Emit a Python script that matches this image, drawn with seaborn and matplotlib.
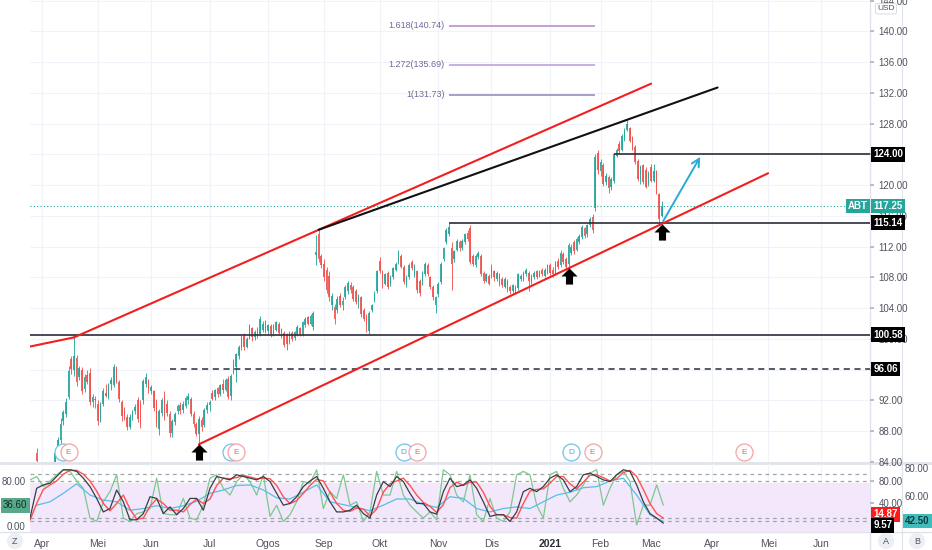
import numpy as np
import pandas as pd
import seaborn as sns
import matplotlib
matplotlib.use("Agg")
import matplotlib.pyplot as plt
from matplotlib.path import Path
from matplotlib.lines import Line2D

# ABT daily candles, Mar 26 2020 - Mar 5 2021
opens = [
    79.0, 80.5, 85.2, 83.6,
    78.0, 76.8, 78.5, 80.0, 83.6, 82.8, 85.5, 86.9, 89.3, 90.2, 92.5, 97.4, 96.0, 97.5, 95.0, 96.0, 93.5, 95.3, 95.6, 91.8, 92.2,
    91.6, 89.5, 91.6, 93.0, 92.5, 94.2, 94.0, 96.2, 94.4, 91.8, 90.6, 89.9, 88.6, 89.8, 90.6, 92.0, 91.5, 92.0, 94.2, 94.6,
    93.2, 93.2, 91.8, 88.3, 90.4, 92.6, 91.6, 90.2, 87.8, 89.2, 90.6, 91.4, 90.7, 91.3, 92.0, 92.2, 90.2, 88.9, 87.6, 89.4, 88.8, 90.8,
    91.4, 93.0, 92.4, 93.6, 92.8, 94.2, 93.4, 94.8, 92.6, 95.6, 96.4, 97.8, 98.8, 100.4, 99.0, 100.2, 101.4, 100.2, 101.2, 100.6, 101.2, 102.2,
    101.0, 101.7, 100.6, 101.2, 102.0, 101.2, 100.8, 100.6, 99.6, 100.8, 100.1, 100.6, 101.4, 100.6, 101.8, 102.8, 102.0, 101.6, 110.9, 113.6, 110.8,
    109.8, 109.0, 108.2, 104.4, 104.2, 103.8, 105.6, 104.4, 105.4, 106.2, 107.0, 106.8, 106.2, 104.8, 105.4, 103.8, 103.0, 101.0, 103.8, 105.0, 106.2,
    110.2, 108.7, 107.2, 108.6, 107.2, 108.0, 109.0, 110.0, 110.8, 109.4, 107.0, 108.0, 110.0, 108.4, 108.8, 107.6, 107.2, 108.4, 109.6, 108.0, 106.8, 104.4,
    105.8, 107.4, 110.4, 112.6, 113.6, 111.8, 110.4, 111.6, 112.6, 111.8, 112.6, 113.8, 114.4, 110.8, 109.6, 110.6, 110.8, 108.6, 107.6, 108.2,
    109.4, 108.8, 107.8, 108.4, 107.8, 106.8, 107.6, 106.8, 106.2, 106.8, 106.6, 107.8, 107.8, 108.4, 108.6, 107.4, 108.0, 108.8, 108.2, 109.0, 108.2, 108.6,
    109.6, 109.0, 108.6, 110.2, 109.6, 111.0, 110.4, 109.8, 111.2, 112.6, 111.6, 112.6, 113.2, 114.4, 113.6, 114.8, 115.8, 117.0, 124.2,
    121.8, 122.6, 120.4, 121.0, 119.8, 120.6, 123.8, 125.4, 124.6, 126.0, 127.2, 127.4, 126.2, 125.0, 123.2, 120.8, 122.6, 122.0, 120.2,
    122.4, 120.6, 121.8, 118.8, 116.0,
]
highs = [
    82.0, 84.0, 85.8, 84.0,
    79.0, 79.5, 79.5, 82.5, 84.0, 85.4, 87.2, 89.7, 90.8, 92.3, 96.5, 97.8, 100.6, 97.9, 96.5, 96.4, 95.4, 96.0, 96.2, 92.8, 92.6,
    92.0, 91.8, 93.6, 94.2, 94.3, 95.0, 96.8, 96.5, 94.6, 92.0, 91.2, 90.2, 90.2, 90.8, 91.6, 92.4, 92.0, 94.8, 95.6, 94.8,
    94.0, 93.4, 92.2, 90.9, 92.3, 93.2, 92.1, 90.6, 89.6, 90.5, 91.5, 91.8, 91.9, 92.6, 93.0, 92.5, 90.6, 89.2, 90.0, 89.8, 91.0, 91.8,
    92.0, 93.4, 93.5, 93.8, 94.2, 94.8, 94.9, 95.2, 95.4, 97.4, 98.2, 99.2, 100.5, 100.8, 100.2, 102.0, 101.6, 101.2, 101.5, 103.0, 102.4, 102.5,
    102.0, 101.9, 102.0, 102.4, 102.2, 101.4, 101.0, 100.8, 101.0, 101.0, 101.1, 101.8, 101.6, 102.4, 102.8, 103.0, 103.2, 103.6, 113.5, 114.3, 111.0,
    110.4, 109.4, 108.8, 106.0, 104.6, 105.6, 106.0, 105.4, 107.0, 107.6, 107.4, 107.0, 106.5, 105.9, 105.6, 104.0, 103.3, 103.6, 104.6, 106.2, 109.0,
    110.6, 109.0, 108.6, 108.9, 108.3, 109.4, 110.0, 111.6, 111.1, 109.6, 108.3, 109.9, 110.3, 109.8, 109.0, 107.8, 108.8, 110.0, 109.9, 108.2, 107.0, 105.6,
    107.4, 110.0, 112.0, 114.4, 115.1, 112.6, 111.6, 113.0, 112.9, 113.0, 113.8, 114.2, 114.8, 111.0, 111.0, 111.5, 111.0, 108.9, 108.6, 108.5,
    109.8, 109.0, 108.9, 108.6, 108.0, 108.0, 107.8, 107.0, 107.2, 107.0, 108.6, 108.4, 108.8, 109.2, 108.8, 108.4, 108.8, 109.0, 109.0, 109.2, 109.2, 109.8,
    109.9, 109.3, 110.2, 110.5, 111.6, 111.3, 110.6, 112.5, 112.3, 112.9, 113.2, 113.6, 114.8, 114.6, 115.0, 115.9, 116.2, 124.0, 124.6,
    123.4, 122.9, 121.6, 121.3, 121.0, 124.2, 124.8, 125.7, 126.6, 127.4, 128.6, 127.6, 126.4, 125.2, 123.4, 122.6, 122.8, 122.4, 121.8,
    122.8, 122.8, 122.0, 119.0, 118.0,
]
lows = [
    78.0, 80.0, 83.6, 78.6,
    75.5, 76.0, 76.5, 79.8, 81.2, 82.4, 85.0, 86.5, 88.8, 89.8, 92.2, 95.4, 95.2, 93.9, 94.6, 92.8, 93.1, 94.1, 91.4, 91.2, 91.0,
    88.8, 89.2, 91.3, 92.4, 92.2, 93.4, 93.8, 94.3, 91.8, 89.3, 89.4, 88.2, 88.3, 89.4, 90.2, 89.2, 88.4, 91.6, 93.8, 93.0,
    92.8, 90.6, 88.6, 87.5, 90.0, 89.5, 90.0, 87.2, 87.3, 88.8, 90.2, 90.3, 90.4, 91.0, 91.6, 90.0, 88.6, 87.4, 86.3, 88.0, 88.5, 90.4,
    90.6, 92.0, 92.0, 92.4, 92.6, 93.0, 93.2, 92.2, 92.0, 95.4, 94.4, 97.4, 98.6, 98.6, 98.8, 100.0, 99.8, 99.9, 100.1, 100.4, 100.9, 100.8,
    100.7, 100.3, 100.4, 101.0, 100.6, 100.1, 98.9, 98.6, 99.4, 99.8, 99.9, 100.4, 100.4, 100.4, 101.6, 101.8, 101.8, 101.2, 109.6, 110.0, 109.2,
    107.6, 106.0, 105.0, 103.8, 102.0, 103.4, 104.2, 103.8, 105.2, 105.9, 106.0, 104.9, 104.5, 104.0, 102.9, 102.3, 100.9, 100.6, 103.5, 104.8, 106.0,
    108.6, 106.6, 107.0, 106.5, 106.9, 107.8, 108.8, 109.8, 109.2, 107.1, 106.8, 107.8, 109.0, 108.1, 106.0, 105.6, 107.0, 108.2, 108.2, 106.5, 105.1, 103.4,
    105.5, 107.2, 110.2, 112.4, 113.4, 106.4, 110.0, 111.4, 111.5, 111.6, 112.4, 112.8, 109.8, 109.5, 109.4, 110.4, 108.2, 107.3, 107.4, 107.0,
    107.9, 107.6, 107.6, 106.9, 106.7, 106.6, 106.1, 105.9, 106.0, 105.8, 106.4, 107.6, 107.6, 108.2, 106.2, 107.2, 107.8, 107.8, 108.0, 108.2, 108.0, 108.4,
    108.3, 108.1, 108.4, 109.1, 109.4, 109.8, 109.0, 109.1, 110.9, 111.1, 111.4, 112.4, 113.0, 113.1, 113.3, 114.6, 113.8, 116.6, 121.4,
    121.2, 119.9, 120.0, 119.0, 119.4, 120.3, 123.6, 124.2, 124.4, 125.8, 127.0, 125.6, 124.6, 122.8, 120.6, 120.2, 120.2, 119.6, 119.9,
    120.4, 120.4, 118.8, 115.1, 115.8,
]
closes = [
    81.5, 83.8, 84.1, 79.0,
    76.5, 79.0, 77.8, 82.3, 82.0, 85.2, 86.8, 88.9, 90.5, 91.8, 95.8, 96.1, 97.8, 94.4, 96.2, 93.2, 95.0, 94.4, 91.8, 92.4, 92.1,
    89.3, 91.5, 93.2, 92.6, 94.0, 94.7, 96.4, 94.6, 92.2, 90.0, 89.8, 88.6, 89.8, 90.6, 91.2, 89.6, 89.0, 94.5, 95.0, 93.4,
    93.8, 91.0, 89.2, 90.6, 92.0, 89.8, 90.4, 87.8, 89.3, 90.3, 91.3, 90.6, 91.6, 92.3, 92.6, 90.2, 88.9, 87.7, 89.6, 88.6, 90.8, 91.4,
    91.8, 92.2, 93.3, 92.8, 94.0, 93.3, 94.6, 92.4, 95.2, 97.3, 98.0, 99.0, 100.3, 98.9, 100.0, 101.8, 100.2, 100.9, 100.4, 102.6, 102.0, 101.1,
    101.8, 100.6, 101.8, 102.2, 100.8, 100.4, 99.2, 99.4, 100.8, 100.0, 100.9, 101.6, 100.6, 102.2, 102.6, 102.0, 103.0, 103.4, 111.3, 110.4, 109.6,
    108.0, 106.4, 105.4, 105.6, 102.6, 105.2, 104.4, 105.0, 106.8, 107.3, 106.4, 105.2, 104.8, 105.6, 103.2, 102.6, 101.8, 103.4, 104.4, 106.0, 108.8,
    108.8, 107.0, 108.4, 106.8, 108.0, 109.2, 109.8, 111.0, 109.4, 107.4, 108.0, 109.6, 109.2, 109.6, 106.4, 106.0, 108.6, 109.8, 108.4, 106.8, 105.4, 105.4,
    107.2, 109.8, 111.8, 114.2, 114.6, 109.8, 111.4, 112.8, 111.8, 112.8, 113.6, 113.0, 110.0, 109.8, 110.8, 111.2, 108.4, 107.6, 108.4, 107.2,
    108.2, 108.0, 108.6, 107.2, 107.0, 107.8, 106.4, 106.2, 107.0, 106.0, 108.4, 108.2, 108.6, 109.0, 107.6, 108.2, 108.6, 108.0, 108.8, 108.4, 109.0, 109.5,
    108.6, 108.4, 110.0, 109.4, 111.2, 110.0, 109.4, 112.2, 112.0, 111.4, 113.0, 113.4, 114.6, 113.4, 114.8, 115.6, 114.2, 123.6, 122.0,
    123.0, 120.2, 121.2, 119.6, 120.8, 124.0, 124.6, 124.4, 126.4, 127.2, 128.0, 125.8, 124.8, 123.0, 120.8, 122.4, 120.4, 119.8, 121.6,
    120.6, 121.8, 119.0, 115.6, 117.25,
]

# stochastic RSI pane: black %K, red %D, green fast line, blue slow line
stoch_k = [14, 67, 73, 76, 88, 100, 100, 97, 85, 70,
           49, 25, 31, 64, 43, 11, 11, 22, 52, 49,
           22, 34, 20, 31, 49, 49, 28, 67, 88, 85,
           82, 91, 88, 85, 82, 88, 79, 58, 37, 40,
           52, 70, 80, 88, 67, 43, 25, 25, 28, 37,
           22, 14, 55, 79, 70, 88, 79, 58, 40, 40,
           25, 21, 61, 85, 70, 73, 82, 67, 43, 17,
           20, 20, 8, 25, 61, 67, 61, 70, 85, 91,
           82, 61, 70, 91, 94, 88, 82, 79, 91, 100,
           97, 73, 43, 22, 14, 5]
stoch_d = [10, 40, 65, 73, 80, 92, 99, 99, 92, 80,
           62, 40, 27, 40, 55, 30, 12, 14, 35, 48,
           40, 28, 28, 25, 38, 48, 40, 48, 72, 85,
           84, 86, 90, 87, 84, 85, 84, 72, 52, 40,
           45, 58, 72, 83, 80, 60, 40, 28, 26, 32,
           30, 18, 30, 60, 75, 80, 85, 72, 55, 42,
           35, 24, 38, 68, 78, 72, 78, 78, 60, 35,
           20, 20, 15, 14, 40, 62, 65, 66, 76, 88,
           88, 75, 66, 78, 90, 91, 86, 80, 84, 95,
           99, 88, 65, 40, 22, 14]
stoch_fast = [82, 88, 70, 80, 91, 100, 97, 80, 67, 14,
              8, 43, 61, 91, 14, 8, 22, 25, 31, 85,
              22, 20, 20, 49, 14, 11, 37, 85, 91, 67,
              55, 79, 91, 79, 55, 91, 17, 37, 8, 20,
              43, 79, 76, 100, 31, 61, 49, 91, 37, 43,
              8, 25, 97, 55, 55, 97, 55, 37, 25, 14,
              25, 11, 100, 91, 55, 43, 91, 20, 8, 49,
              14, 8, 25, 91, 97, 91, 37, 14, 91, 97,
              67, 43, 55, 73, 94, 100, 37, 67, 91, 97,
              79, 2, 37, 37, 73, 37]
rsi_slow = [37, 43, 58, 75, 55, 46, 43, 28, 31, 36,
            31, 36, 44, 58, 64, 72, 73, 64, 50, 48,
            60, 73, 43, 38, 33, 27, 37, 48, 48, 38,
            33, 52, 49, 31, 25, 31, 34, 31, 43, 55,
            60, 68, 70, 80, 85, 55, 20, 8]

# drawings on the chart (date, price)
support = [('2020-06-25', 86.3), ('2021-05-03', 121.55)]
channel_top = [('2020-04-20', 100.2), ('2021-03-01', 133.2)]
old_line = [('2020-03-26', 99.05), ('2020-04-20', 100.2)]
resistance = [('2020-08-28', 114.2), ('2021-04-06', 132.7)]
target = [('2021-03-05', 115.0), ('2021-03-26', 124.0)]
levels = [100.58, 115.14, 124.00]
level_from = [None, '2020-11-06', '2021-02-08']
dashed_level = 96.06
dashed_from = '2020-06-10'
fib_ratio = ['1.618', '1.272', '1']
fib_price = [140.74, 135.69, 131.73]
fib_span = ('2020-11-06', '2021-01-28')
arrow_days = ['2020-06-25', '2021-01-13', '2021-03-05']
dividend_days = ['2020-04-14', '2020-07-14', '2020-10-14', '2021-01-14']
earnings_days = ['2020-04-16', '2020-07-16', '2020-10-21', '2021-01-27', '2021-04-20']
last_price = 117.25
month_names = ['Apr', 'Mei', 'Jun', 'Jul', 'Ogos', 'Sep', 'Okt', 'Nov', 'Dis',
               '2021', 'Feb', 'Mac', 'Apr', 'Mei', 'Jun']

holidays = ['2020-04-10', '2020-05-25', '2020-07-03', '2020-09-07', '2020-11-26',
            '2020-12-25', '2021-01-01', '2021-01-18', '2021-02-15', '2021-04-02', '2021-05-31']
all_days = pd.bdate_range('2020-03-26', '2021-06-30')
all_days = all_days[~all_days.isin(pd.to_datetime(holidays))]
dates = all_days[all_days <= '2021-03-05']
assert len(dates) == len(opens) == len(highs) == len(lows) == len(closes)


def bar(d):
    return all_days.get_loc(pd.Timestamp(d))


def line_at(line, b):
    (d0, p0), (d1, p1) = line
    b0, b1 = bar(d0), bar(d1)
    return p0 + (p1 - p0) * (b - b0) / (b1 - b0)


sns.set_theme(style="white")
plt.rcParams['font.family'] = ['Liberation Sans', 'DejaVu Sans']

TEAL, RED = '#26a69a', '#ef5350'
GRID, SEP, TXT = '#f0f3fa', '#e0e3eb', '#50535e'
X0, X1 = -0.5, 315.3

W, H = 932, 550
fig = plt.figure(figsize=(W / 100, H / 100), dpi=100)


def box(l, t, r, b):
    return [l / W, 1 - b / H, (r - l) / W, (b - t) / H]


ax = fig.add_axes(box(30, 0, 870, 462))
axs = fig.add_axes(box(30, 464, 870, 532))
for a in (ax, axs):
    a.set_xlim(X0, X1)
    a.set_facecolor('none')
    for s in a.spines.values():
        s.set_visible(False)

first_days = all_days.to_series().groupby(all_days.to_period('M')).min()
first_days = first_days[first_days.dt.day <= 5]
tick_pos = [bar(d) for d in first_days]

# ---------------- price pane ----------------
ax.set_ylim(84.0, 144.08)
price_ticks = np.arange(84, 145, 4)
for v in price_ticks:
    ax.axhline(v, color=GRID, lw=0.8, zorder=0)
for t in tick_pos:
    ax.axvline(t, color=GRID, lw=0.8, zorder=0)
    axs.axvline(t, color=GRID, lw=0.8, zorder=0)

o, h, l, c = map(np.array, (opens, highs, lows, closes))
x = np.arange(len(dates))
col = np.where(c >= o, TEAL, RED)
ax.vlines(x, l, h, colors=col, lw=0.7, alpha=0.9, zorder=2)
ax.bar(x, np.maximum(np.abs(c - o), 0.1), bottom=np.minimum(o, c), width=0.62,
       color=col, alpha=0.9, linewidth=0, zorder=2)

# horizontal levels
for lv, start in zip(levels, level_from):
    b0 = X0 if start is None else bar(start)
    ax.hlines(lv, b0, X1, color='#2a2e39', lw=1.2, zorder=3)
ax.hlines(dashed_level, bar(dashed_from), X1, color='#2a2e39', lw=1.1, ls=(0, (4, 3)), zorder=3)
ax.axhline(last_price, color=TEAL, lw=0.8, ls=(0, (1, 2)), zorder=1)

# fib extension levels
fib_cols = ['#b784c9', '#b39ddb', '#8e86b8']
fb0, fb1 = bar(fib_span[0]), bar(fib_span[1])
for r, p, cc in zip(fib_ratio, fib_price, fib_cols):
    ax.hlines(p, fb0, fb1, color=cc, lw=1.1, zorder=3)
    ax.text(fb0 - 1.5, p, f'{r}({p:.2f})', ha='right', va='center', fontsize=6.5, color='#6f6a96')

# trend lines
ax.plot([X0, bar(old_line[1][0])], [line_at(old_line, X0), old_line[1][1]], color='#f21f1f', lw=1.5, zorder=4)
for ln, cc in [(channel_top, '#f21f1f'), (support, '#f21f1f'), (resistance, '#111111')]:
    ax.plot([bar(ln[0][0]), bar(ln[1][0])], [ln[0][1], ln[1][1]], color=cc, lw=1.5, zorder=4,
            solid_capstyle='round')
ax.annotate('', xy=(bar(target[1][0]), target[1][1]), xytext=(bar(target[0][0]), target[0][1]),
            arrowprops=dict(arrowstyle='->', color='#29a9d6', lw=1.4, mutation_scale=14), zorder=5)

# black up-arrows under the support touches
up_arrow = Path([(0, 0.5), (0.5, 0.0), (0.22, 0.0), (0.22, -0.5), (-0.22, -0.5),
                 (-0.22, 0.0), (-0.5, 0.0), (0, 0.5)], closed=True)
ab = [bar(d) for d in arrow_days]
ax.scatter(ab, [line_at(support, b) - 1.0 for b in ab], marker=up_arrow, s=135,
           color='black', zorder=6, linewidths=0)

# dividend / earnings markers
ev_y = 85.3
for d in dividend_days:
    ax.scatter(bar(d), ev_y, s=150, facecolor='white', edgecolor='#6ec3ea', lw=0.9, zorder=6)
    ax.text(bar(d), ev_y, 'D', ha='center', va='center', fontsize=6, color='#3fa9de', zorder=7)
for d in earnings_days:
    ax.scatter(bar(d), ev_y, s=150, facecolor='white', edgecolor='#f4a3a3', lw=0.9, zorder=8)
    ax.text(bar(d), ev_y, 'E', ha='center', va='center', fontsize=6, color='#ef6262', zorder=9)

# right price scale; labels sitting under a tag are hidden like on the chart
hidden = {124, 96}
ax.yaxis.tick_right()
ax.set_yticks(price_ticks)
ax.set_yticklabels(['' if v in hidden else f'{v:.2f}' for v in price_ticks])
ax.tick_params(axis='y', labelsize=7, labelcolor=TXT, color='#b2b5be', length=3, pad=3)
ax.tick_params(axis='x', labelbottom=False, length=0)


def tag(a, y, s, fc, xf=1.004, ha='left', tc='white'):
    a.text(xf, y, s, transform=a.get_yaxis_transform(), ha=ha, va='center', fontsize=7,
           color=tc, fontweight='bold', zorder=10, clip_on=False,
           bbox=dict(boxstyle='square,pad=0.22', fc=fc, ec='none'))


tag(ax, 124.00, '124.00', 'black')
tag(ax, 115.14, '115.14', 'black')
tag(ax, 100.58, '100.58', 'black')
tag(ax, dashed_level, f'{dashed_level:.2f}', 'black')
tag(ax, last_price, f'{last_price:.2f}', TEAL)
tag(ax, last_price, 'ABT', TEAL, xf=0.9975, ha='right')
ax.text(1.019, 0.981, 'USD', transform=ax.transAxes, ha='center', va='center', fontsize=6,
        color=TXT, clip_on=False, bbox=dict(boxstyle='round,pad=0.2', fc='white', ec='#d1d4dc', lw=0.6))

# ---------------- stochastic pane ----------------
axs.set_ylim(-10.7, 110.2)
axs.axhspan(-20, 76.4, color='#f3e7fb', zorder=0, lw=0)
for v in [91.9, 80.5, 13.6, 8.9]:
    axs.axhline(v, color='#a3a6ad', lw=0.9, ls=(0, (3, 3)), zorder=1)

stoch_x = np.linspace(-0.5, 237.6, len(stoch_k))
rsi_x = np.linspace(2.0, 237.6, len(rsi_slow))
sdf = pd.DataFrame({'bar': stoch_x, 'fast': stoch_fast, 'k': stoch_k, 'd': stoch_d})
rdf = pd.DataFrame({'bar': rsi_x, 'rsi': rsi_slow})
sns.lineplot(data=sdf, x='bar', y='fast', ax=axs, color='#7cc98e', lw=0.9, zorder=2)
sns.lineplot(data=rdf, x='bar', y='rsi', ax=axs, color='#56bfe8', lw=0.9, zorder=2)
sns.lineplot(data=sdf, x='bar', y='d', ax=axs, color='#ff5252', lw=1.0, zorder=3)
sns.lineplot(data=sdf, x='bar', y='k', ax=axs, color='#3a3d48', lw=0.9, zorder=4)
axs.set_xlabel('')
axs.set_ylabel('')

axs.set_yticks([0, 80])
axs.set_yticklabels(['0.00', '80.00'])
axs.tick_params(axis='y', labelsize=7, labelcolor=TXT, length=0, pad=3)
axs.set_xticks(tick_pos)
axs.set_xticklabels(month_names)
axs.tick_params(axis='x', labelsize=7.5, labelcolor=TXT, length=0, pad=5)
for lab in axs.get_xticklabels():
    if lab.get_text() == '2021':
        lab.set_fontweight('bold')
        lab.set_color('#2a2e39')

axr = axs.twinx()
axr.set_ylim(axs.get_ylim())
axr.set_facecolor('none')
for s in axr.spines.values():
    s.set_visible(False)
axr.set_yticks([40, 80])
axr.set_yticklabels(['40.00', '80.00'])
axr.tick_params(axis='y', labelsize=7, labelcolor=TXT, color='#b2b5be', length=3, pad=3)

tag(axr, 20.5, '14.87', '#ff1a1a')
tag(axr, 1.0, '9.57', 'black')
tag(axr, 8.9, '42.50', '#3fbdbd', xf=1.042, tc='#0e3b3b')
axr.text(1.056, 101.3, '80.00', transform=axr.get_yaxis_transform(), ha='center', va='center',
         fontsize=7, color=TXT, clip_on=False)
axr.text(1.056, 51.6, '60.00', transform=axr.get_yaxis_transform(), ha='center', va='center',
         fontsize=7, color=TXT, clip_on=False)
axs.text(-0.003, 36.6, '36.60', transform=axs.get_yaxis_transform(), ha='right', va='center',
         fontsize=7, color='#0f2f26', clip_on=False, zorder=10,
         bbox=dict(boxstyle='square,pad=0.22', fc='#5aa88a', ec='none'))

# frame separators (under the axes content) and bottom buttons
for xs, ys, lw in [([870, 870], [0, 550], 1.0), ([902, 902], [0, 550], 0.8),
                   ([0, 932], [463, 463], 2.0), ([0, 932], [532, 532], 1.0)]:
    fig.add_artist(Line2D([v / W for v in xs], [1 - v / H for v in ys], color=SEP, lw=lw,
                          transform=fig.transFigure, zorder=-1))
for px, s in [(15, 'Z'), (886, 'A'), (917, 'B')]:
    fig.text(px / W, 1 - 541 / H, s, ha='center', va='center', fontsize=6.5, color=TXT,
             bbox=dict(boxstyle='circle,pad=0.4', fc='#eceff4', ec='none'))

fig.savefig('out.png', dpi=100)
